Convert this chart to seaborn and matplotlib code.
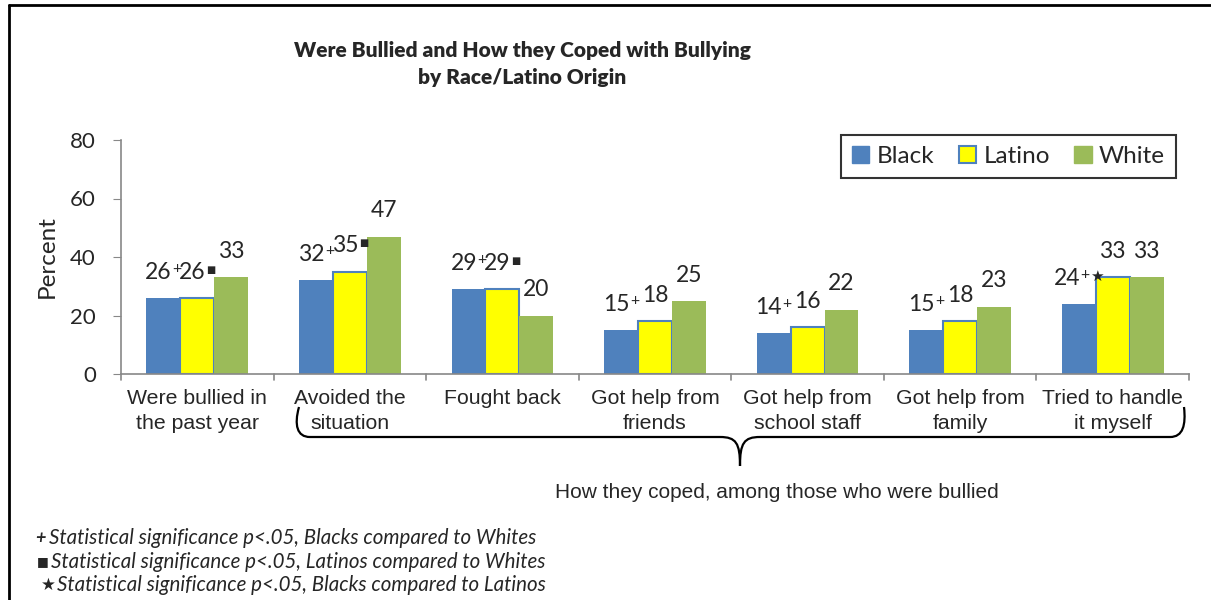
import matplotlib
matplotlib.use("Agg")
import matplotlib.pyplot as plt
import seaborn as sns
import pandas as pd
from matplotlib.patches import Patch
from matplotlib.path import Path
from matplotlib.patches import PathPatch
from matplotlib.lines import Line2D

categories = ["Were bullied in\nthe past year", "Avoided the\nsituation", "Fought back",
              "Got help from\nfriends", "Got help from\nschool staff", "Got help from\nfamily",
              "Tried to handle\nit myself"]
groups = ["Black", "Latino", "White"]
black = [26, 32, 29, 15, 14, 15, 24]
latino = [26, 35, 29, 18, 16, 18, 33]
white = [33, 47, 20, 25, 22, 23, 33]
black_marks = ["+", "+", "+", "+", "+", "+", "+★"]
latino_marks = ["■", "■", "■", "", "", "", ""]
white_marks = ["", "", "", "", "", "", ""]
y_ticks = [0, 20, 40, 60, 80]
title = "Were Bullied and How they Coped with Bullying\nby Race/Latino Origin"
brace_label = "How they coped, among those who were bullied"
footnotes = [("+", "Statistical significance p<.05, Blacks compared to Whites"),
             ("■", "Statistical significance p<.05, Latinos compared to Whites"),
             ("★", "Statistical significance p<.05, Blacks compared to Latinos")]

colors = {"Black": "#4F81BD", "Latino": "#FFFF00", "White": "#9BBB59"}
CAL = ["Lato", "DejaVu Sans"]
ARI = ["Liberation Sans", "DejaVu Sans"]

df = pd.DataFrame({
    "category": categories * 3,
    "group": [g for g in groups for _ in categories],
    "value": black + latino + white,
})

sns.set_style("white")
W, H = 1211, 600
fig = plt.figure(figsize=(W / 100, H / 100), dpi=100)

def fx(px):
    return px / W

def fy(py):
    return 1 - py / H

ax = fig.add_axes([fx(121), fy(374), fx(1189) - fx(121), fy(140) - fy(374)])
sns.barplot(data=df, x="category", y="value", hue="group", palette=colors,
            order=categories, hue_order=groups, width=0.667, ax=ax,
            saturation=1, legend=False, errorbar=None, linewidth=0)

for cont, g in zip(ax.containers, groups):
    for p in cont:
        if g == "Latino":
            p.set_edgecolor("#4F81BD")
            p.set_linewidth(1.5)
        else:
            p.set_edgecolor(colors[g])
            p.set_linewidth(0)

ax.set_xlim(-0.5, len(categories) - 0.5)
ax.set_ylim(0, 80)
ax.set_yticks(y_ticks)
ax.set_yticklabels([str(t) for t in y_ticks], fontsize=16, family=CAL)
ax.set_ylabel("Percent", fontsize=17.5, family=CAL, labelpad=9)
ax.set_xlabel("")
ax.set_xticks(range(len(categories)))
ax.set_xticklabels(categories, fontsize=15.3, family=ARI, linespacing=1.4)
ax.tick_params(axis="x", length=0, pad=11)
ax.tick_params(axis="y", length=6, color="#888888", direction="out", left=True, pad=12)
for s in ["top", "right"]:
    ax.spines[s].set_visible(False)
for s in ["left", "bottom"]:
    ax.spines[s].set_color("#888888")
    ax.spines[s].set_linewidth(1.2)
# boundary ticks below x-axis
for b in range(len(categories) + 1):
    ax.plot([b - 0.5, b - 0.5], [0, -2.2], color="#888888", lw=1.2, clip_on=False)

# data labels: number + superscript markers, centred as a group over the bar
msize = {"+": 11.5, "■": 7, "★": 11}
mdy = {"+": 3, "■": -1, "★": 1}
renderer = fig.canvas.get_renderer()
PT = 72 / 100.0
for cont, vals, marks in zip(ax.containers, [black, latino, white],
                             [black_marks, latino_marks, white_marks]):
    for p, v, m in zip(cont, vals, marks):
        cx = p.get_x() + p.get_width() / 2
        num = ax.annotate(str(v), (cx, v), xytext=(0, 11), textcoords="offset points",
                          ha="center", va="bottom", fontsize=16.5, family=CAL,
                          annotation_clip=False)
        if not m:
            continue
        nb = num.get_window_extent(renderer)
        wn, hn = nb.width, nb.height
        mtexts = []
        widths = []
        for ch in m:
            t = ax.annotate(ch, (cx, v), xytext=(0, 0), textcoords="offset points",
                            ha="left", va="top", fontsize=msize[ch], family=CAL,
                            annotation_clip=False)
            widths.append(t.get_window_extent(renderer).width)
            mtexts.append(t)
        gap = 0.5
        total = wn + gap + sum(widths) + gap * (len(widths) - 1)
        left = -total / 2
        num.xyann = ((left + wn / 2) * PT, 11)
        xcur = left + wn + gap
        top_px = 11 / PT + hn - 3
        for ch, t, w in zip(m, mtexts, widths):
            t.xyann = (xcur * PT, (top_px + mdy[ch]) * PT)
            xcur += w + gap

# legend
handles = [Patch(facecolor=colors["Black"], edgecolor=colors["Black"]),
           Patch(facecolor=colors["Latino"], edgecolor="#4F81BD", linewidth=1.5),
           Patch(facecolor=colors["White"], edgecolor=colors["White"])]
leg = ax.legend(handles, groups, ncol=3, loc="upper right",
                bbox_to_anchor=(fx(1176), fy(135)), bbox_transform=fig.transFigure,
                prop=dict(family=CAL, size=17.5), frameon=True, fancybox=False,
                handlelength=0.72, handleheight=0.72, handletextpad=0.3,
                columnspacing=1.0, borderpad=0.45, borderaxespad=0)
leg.get_frame().set_edgecolor("black")
leg.get_frame().set_linewidth(1.5)

# title
fig.text(fx(522), fy(64), title, ha="center", va="center", fontsize=15,
         fontweight="heavy", family=CAL, linespacing=1.55)

# brace
def P(x, y):
    return (fx(x), fy(y))

verts = [P(299, 407), P(294, 425), P(297, 437), P(310, 437),
         P(720, 437),
         P(736, 437), P(740, 443), P(740, 466),
         P(740, 443), P(744, 437), P(760, 437),
         P(1170, 437),
         P(1183, 437), P(1186, 425), P(1184, 407)]
codes = [Path.MOVETO, Path.CURVE4, Path.CURVE4, Path.CURVE4,
         Path.LINETO,
         Path.CURVE4, Path.CURVE4, Path.CURVE4,
         Path.CURVE4, Path.CURVE4, Path.CURVE4,
         Path.LINETO,
         Path.CURVE4, Path.CURVE4, Path.CURVE4]
fig.patches.append(PathPatch(Path(verts, codes), transform=fig.transFigure,
                             facecolor="none", edgecolor="black", lw=1.6))
fig.text(fx(777), fy(492), brace_label, ha="center", va="center", fontsize=15, family=ARI)

# footnotes
sym_x = {"+": 35, "■": 37, "★": 41}
txt_x = {"+": 49, "■": 51, "★": 57}
sym_size = {"+": 13, "■": 9, "★": 12}
for i, (sym, txt) in enumerate(footnotes):
    y = fy(538 + 23.5 * i)
    fig.text(fx(sym_x[sym]), y, sym, ha="left", va="center",
             fontsize=sym_size[sym], family=CAL, style="italic",
             fontweight="bold" if sym == "+" else "normal")
    fig.text(fx(txt_x[sym]), y, txt, ha="left", va="center",
             fontsize=14.8, family=CAL, style="italic")

# outer border (left and top edges)
fig.add_artist(Line2D([fx(9), fx(9)], [fy(5), 0], transform=fig.transFigure, color="black", lw=2))
fig.add_artist(Line2D([fx(9), 1], [fy(5), fy(5)], transform=fig.transFigure, color="black", lw=2))

fig.savefig("out.png", dpi=100)
